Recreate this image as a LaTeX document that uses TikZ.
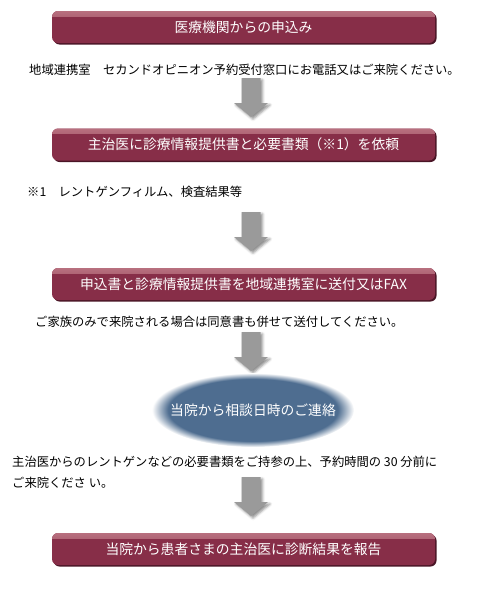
\documentclass[tikz,border=0pt]{standalone}
\usepackage{fontspec}
\setmainfont{Noto Sans CJK JP}
\usetikzlibrary{shapes.geometric, shadows, shadows.blur}
\usepackage{xcolor}
\definecolor{stepred}{HTML}{872E48}
\definecolor{stephi}{HTML}{B8707F}
\definecolor{stepdark}{HTML}{4A1526}
\definecolor{contactblue}{HTML}{4E6D90}
\definecolor{arrowgray}{HTML}{9A9A9A}
\pgfdeclareradialshading{fuzzyblue}{\pgfpoint{0bp}{0bp}}{color(0bp)=(contactblue); color(21bp)=(contactblue); color(25bp)=(white); color(50bp)=(white)}

\begin{document}
\begin{tikzpicture}[x=1pt, y=-1pt,
      stepbox/.style={rounded corners=6pt, fill=stepred, minimum width=383pt, minimum height=32pt, text=white, font=\fontsize{13.8}{16}\selectfont,
        general shadow={fill=stepdark, shadow xshift=1.5pt, shadow yshift=-1.5pt},
        path picture={\shade[sharp corners, top color=stephi, bottom color=stepred] (path picture bounding box.north west) rectangle ([yshift=-5pt]path picture bounding box.north east);}},
      note/.style={anchor=west, inner sep=0pt, font=\fontsize{12.3}{21}\selectfont},
      grayarrow/.pic={\fill[arrowgray, blur shadow={shadow xshift=2pt, shadow yshift=-2pt, shadow blur radius=2.5pt, shadow opacity=45}]
        (-9.5,0) -- (9.5,0) -- (9.5,25) -- (17,25) -- (0,39) -- (-17,25) -- (-9.5,25) -- cycle;}
    ]
      \useasboundingbox (0,0) rectangle (500,600);
      \node[stepbox] (apply) at (243.5,27) {医療機関からの申込み};
      \node[note] (call) at (29,70) {地域連携室　セカンドオピニオン予約受付窓口にお電話又はご来院ください。};
      \pic (arr1) at (251,78) {grayarrow};
      \node[stepbox] (request) at (243.5,144.5) {主治医に診療情報提供書と必要書類（※1）を依頼};
      \node[note] (films) at (27,192) {※1　レントゲンフィルム、検査結果等};
      \pic (arr2) at (251,212) {grayarrow};
      \node[stepbox] (send) at (243.5,284) {申込書と診療情報提供書を地域連携室に送付又はFAX};
      \node[note] (family) at (35,322) {ご家族のみで来院される場合は同意書も併せて送付してください。};
      \pic (arr3) at (251,332) {grayarrow};
      \node[ellipse, inner sep=0pt, shade, shading=fuzzyblue, minimum width=202pt, minimum height=74pt,
        label={[text=white, font=\fontsize{13.8}{16}\selectfont]center:当院から相談日時のご連絡}] (contact) at (253,410) {};
      \node[note, align=left] (bring) at (12,472.5) {主治医からのレントゲンなどの必要書類をご持参の上、予約時間の 30 分前に\\ご来院くださ い。};
      \pic (arr4) at (251,477) {grayarrow};
      \node[stepbox] (report) at (243.5,549) {当院から患者さまの主治医に診断結果を報告};
    \end{tikzpicture}
\end{document}
